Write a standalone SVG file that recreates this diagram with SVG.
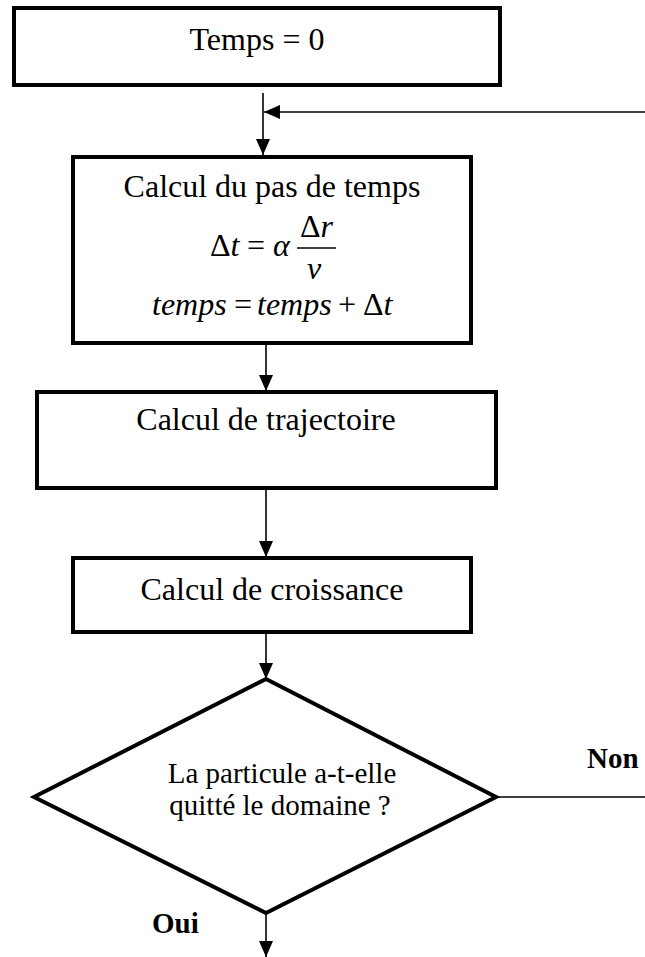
<svg xmlns="http://www.w3.org/2000/svg" width="645" height="957" viewBox="0 0 645 957">
<defs>
<marker id="ah" viewBox="0 0 16 14" refX="16" refY="7" markerWidth="16" markerHeight="14" markerUnits="userSpaceOnUse" orient="auto">
<path d="M0,0 L16,7 L0,14 Z" fill="#000"/>
</marker>
</defs>
<style>
.box{fill:#fff;stroke:#000;stroke-width:4}
.t{font-family:"Liberation Serif","Times New Roman",serif;font-size:32px;fill:#000}
.m{font-family:"Liberation Serif","Times New Roman",serif;font-size:32px;fill:#000}
.i{font-style:italic}
.q{font-family:"Liberation Serif","Times New Roman",serif;font-size:29px;fill:#000}
.b{font-family:"Liberation Serif","Times New Roman",serif;font-size:29px;font-weight:bold;fill:#000}
.c{fill:none;stroke:#000;stroke-width:1.6}
</style>
<rect width="645" height="957" fill="#fff"/>
<g id="connectors">
<line class="c" x1="263" y1="93" x2="263" y2="155" marker-end="url(#ah)"/>
<line class="c" x1="645" y1="112" x2="264" y2="112" marker-end="url(#ah)"/>
<line class="c" x1="266" y1="343" x2="266" y2="391" marker-end="url(#ah)"/>
<line class="c" x1="266" y1="488" x2="266" y2="557" marker-end="url(#ah)"/>
<line class="c" x1="266" y1="632" x2="266" y2="679" marker-end="url(#ah)"/>
<line class="c" x1="266" y1="913" x2="266" y2="957" marker-end="url(#ah)"/>
<line class="c" x1="496" y1="797" x2="645" y2="797"/>
<text class="b" x="587" y="768">Non</text>
<text class="b" x="152" y="933">Oui</text>
</g>
<g id="n1">
<rect class="box" x="14" y="8" width="486" height="77"/>
<text class="t" x="257" y="50" text-anchor="middle">Temps = 0</text>
</g>
<g id="n2">
<rect class="box" x="73" y="157" width="398" height="186"/>
<text class="t" x="272" y="197" text-anchor="middle">Calcul du pas de temps</text>
<text class="m" x="210" y="256">Δ<tspan class="i">t</tspan></text>
<text class="m" x="247" y="256">=</text>
<text class="m i" x="273" y="256">α</text>
<line x1="297" y1="248" x2="336" y2="248" stroke="#000" stroke-width="1.5"/>
<text class="m" x="300" y="237">Δ<tspan class="i">r</tspan></text>
<text class="m i" x="307" y="279">v</text>
<text class="m i" x="152" y="315">temps</text>
<text class="m" x="234" y="315">=</text>
<text class="m i" x="257" y="315">temps</text>
<text class="m" x="338" y="315">+</text>
<text class="m" x="363" y="315">Δ<tspan class="i">t</tspan></text>
</g>
<g id="n3">
<rect class="box" x="37" y="392" width="459" height="96"/>
<text class="t" x="266" y="430" text-anchor="middle">Calcul de trajectoire</text>
</g>
<g id="n4">
<rect class="box" x="73" y="558" width="398" height="74"/>
<text class="t" x="272" y="600" text-anchor="middle">Calcul de croissance</text>
</g>
<g id="n5">
<polygon points="266,679 496,797 266,913 34,797" fill="#fff" stroke="#000" stroke-width="4"/>
<text class="q" x="282" y="783" text-anchor="middle">La particule a-t-elle</text>
<text class="q" x="280" y="815" text-anchor="middle">quitté le domaine ?</text>
</g>
</svg>
